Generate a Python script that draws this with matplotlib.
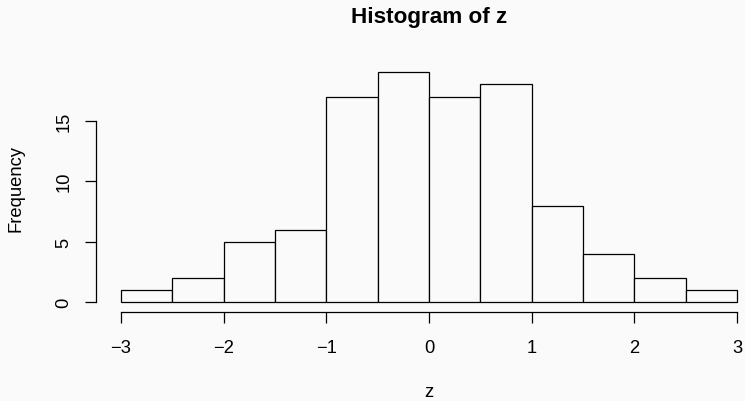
import numpy as np
import matplotlib
matplotlib.use("Agg")
import matplotlib.pyplot as plt

plt.rcParams['font.family'] = ['Liberation Sans', 'DejaVu Sans']

# histogram of z: breaks every 0.5 from -3 to 3
breaks = [-3.0, -2.5, -2.0, -1.5, -1.0, -0.5, 0.0, 0.5, 1.0, 1.5, 2.0, 2.5, 3.0]
counts = [1, 2, 5, 6, 17, 19, 17, 18, 8, 4, 2, 1]
x_ticks = [-3, -2, -1, 0, 1, 2, 3]
x_ticklabels = ['\u22123', '\u22122', '\u22121', '0', '1', '2', '3']
y_ticks = [0, 5, 10, 15]

bg = '#fafafa'
fs = 13.2
fig = plt.figure(figsize=(7.45, 4.02), dpi=100, facecolor=bg)
ax = fig.add_axes([0.1293, 0.2226, 0.8933, 0.6177], facecolor=bg)

lefts = np.array(breaks[:-1])
widths = np.diff(breaks)
ax.bar(lefts, counts, width=widths, align='edge', color=bg,
       edgecolor='black', linewidth=0.9)

# R-style axis extents (4% padding)
xr = breaks[-1] - breaks[0]
ax.set_xlim(breaks[0] - 0.04 * xr, breaks[-1] + 0.04 * xr)
ymax = max(counts)
ax.set_ylim(-0.04 * ymax, ymax * 1.04)

for s in ['top', 'right']:
    ax.spines[s].set_visible(False)
ax.spines['left'].set_bounds(y_ticks[0], y_ticks[-1])
ax.spines['bottom'].set_bounds(x_ticks[0], x_ticks[-1])
for s in ['left', 'bottom']:
    ax.spines[s].set_linewidth(0.9)

ax.set_xticks(x_ticks)
ax.set_xticklabels(x_ticklabels)
ax.set_yticks(y_ticks)
ax.set_yticklabels([str(v) for v in y_ticks], rotation=90, va='center')
ax.tick_params(axis='both', direction='out', length=8, width=0.9,
               labelsize=fs, colors='black')
ax.tick_params(axis='x', pad=11.5)
ax.tick_params(axis='y', pad=9)

# axis titles centred on the plot region
ax.set_xlabel('z', fontsize=fs, va='center')
ax.xaxis.set_label_coords(0.5, -0.322)
ax.set_ylabel('Frequency', fontsize=fs, va='center')
ax.yaxis.set_label_coords(-0.1207, 0.5)

pos = ax.get_position()
fig.text(pos.x0 + pos.width / 2, 1 - 18 / 402, 'Histogram of z',
         ha='center', va='center', fontsize=16.2, fontweight='bold')

fig.savefig('out.png', dpi=100, facecolor=bg)
